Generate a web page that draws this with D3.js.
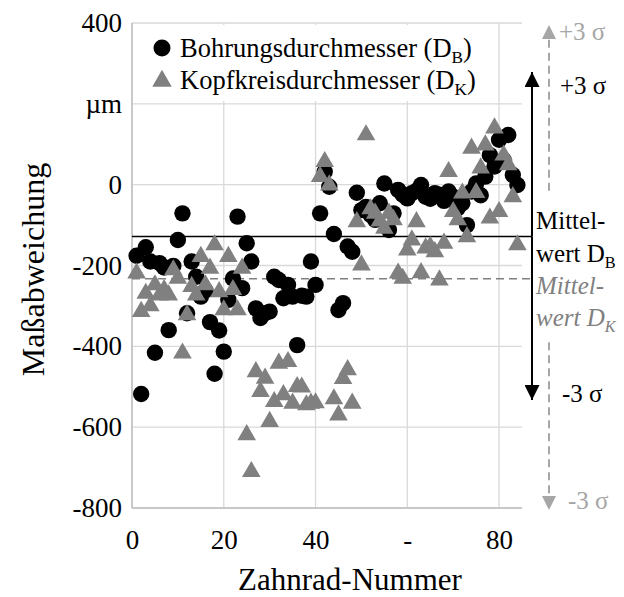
<!DOCTYPE html>
<html>
<head>
<meta charset="utf-8">
<script src="https://cdn.jsdelivr.net/npm/d3@7"></script>
<style>
  body { margin: 0; background: #fff; }
  svg { display: block; }
</style>
</head>
<body>
<div id="chart"></div>
<script>
// Bohrungsdurchmesser D_B (circles)
const boreNr = [1, 2, 3, 4, 5, 6, 7, 8, 9, 10, 11, 12, 13, 14, 15, 16, 17, 18, 19, 20,
  21, 22, 23, 24, 25, 26, 27, 28, 29, 30, 31, 32, 33, 34, 35, 36, 37, 38, 39, 40,
  41, 42, 43, 44, 45, 46, 47, 48, 49, 50, 51, 52, 53, 54, 55, 56, 57, 58, 59, 60,
  61, 62, 63, 64, 65, 66, 67, 68, 69, 70, 71, 72, 73, 74, 75, 76, 77, 78, 79, 80,
  81, 82, 83, 84];
const boreDev = [-176, -518, -155, -190, -416, -194, -205, -360, -201, -137, -71, -318, -190, -228, -277, -262, -340, -468, -361, -413,
  -285, -232, -79, -256, -145, -190, -306, -330, -318, -314, -228, -236, -281, -248, -277, -397, -275, -277, -190, -248,
  -71, 32, -5, -122, -310, -293, -153, -166, -20, -63, -55, -75, -87, -46, 3, -112, -71, -13, -25, -34,
  -21, -15, -1, -30, -35, -21, -25, -40, -17, -30, -58, -46, -100, -17, 3, -26, 20, 73, 45, 111,
  61, 123, 24, -1];

// Kopfkreisdurchmesser D_K (triangles)
const tipNr = [1, 2, 3, 4, 5, 6, 7, 8, 9, 10, 11, 12, 13, 14, 15, 16, 17, 18, 19, 20,
  21, 22, 23, 24, 25, 26, 27, 28, 29, 30, 31, 32, 33, 34, 35, 36, 37, 38, 39, 40,
  41, 42, 43, 44, 45, 46, 47, 48, 49, 50, 51, 52, 53, 54, 55, 56, 57, 58, 59, 60,
  61, 62, 63, 64, 65, 66, 67, 68, 69, 70, 71, 72, 73, 74, 75, 76, 77, 78, 79, 80,
  81, 82, 83, 84];
const tipDev = [-219, -314, -269, -300, -248, -273, -260, -273, -211, -232, -417, -322, -252, -273, -178, -248, -207, -149, -265, -310,
  -178, -260, -310, -207, -619, -710, -463, -512, -479, -586, -537, -442, -520, -438, -541, -500, -501, -545, -541, -540,
  20, 57, -1, -530, -570, -480, -458, -541, -92, -199, 123, -60, -71, -90, -108, -71, -87, -219, -232, -162,
  -137, -92, -218, -157, -153, -166, -236, -145, 32, -67, -87, -21, -129, 90, -20, 41, 98, -83, 140, -67,
  73, 49, -30, -149];

const xTicks = [0, 20, 40, 60, 80];
const xTickLabels = ["0", "20", "40", "-", "80"];
const yTicks = [400, 200, 0, -200, -400, -600, -800];
const yTickLabels = ["400", "\u00b5m", "0", "-200", "-400", "-600", "-800"];

// mean and 3 sigma limits
const meanB = -128, upperB = 279, lowerB = -533;
const meanK = -233, upperK = 395, lowerK = -805;
const gapK = [-15, -390]; // dashed arrow is interrupted for the labels

const width = 624, height = 597;
const pLeft = 132, pRight = 522, pTop = 23, pBottom = 508;

const svg = d3.select("#chart").append("svg")
  .attr("width", width)
  .attr("height", height);

const x = d3.scaleLinear().domain([0, 85]).range([pLeft, pRight]);
const y = d3.scaleLinear().domain([-800, 400]).range([pBottom, pTop]);

// grid
const grid = svg.append("g");
grid.selectAll(".hg").data(yTicks).join("line")
  .attr("x1", pLeft).attr("x2", pRight)
  .attr("y1", d => y(d)).attr("y2", d => y(d))
  .attr("stroke", "#d9d9d9").attr("stroke-width", 1.3);
grid.selectAll(".vg").data(xTicks).join("line")
  .attr("x1", d => x(d)).attr("x2", d => x(d))
  .attr("y1", pTop).attr("y2", pBottom)
  .attr("stroke", "#d9d9d9").attr("stroke-width", 1.3);

// axis lines
svg.append("line").attr("x1", pLeft).attr("x2", pLeft).attr("y1", pTop).attr("y2", pBottom)
  .attr("stroke", "#bfbfbf").attr("stroke-width", 1.5);
svg.append("line").attr("x1", pLeft).attr("x2", pRight).attr("y1", pBottom).attr("y2", pBottom)
  .attr("stroke", "#bfbfbf").attr("stroke-width", 1.5);

// tick labels
const yAxis = svg.append("g")
  .attr("transform", `translate(${pLeft},0)`)
  .call(d3.axisLeft(y).tickValues(yTicks).tickSize(0).tickPadding(10)
    .tickFormat((d, i) => yTickLabels[i]));
const xAxis = svg.append("g")
  .attr("transform", `translate(0,${pBottom})`)
  .call(d3.axisBottom(x).tickValues(xTicks).tickSize(0).tickPadding(22)
    .tickFormat((d, i) => xTickLabels[i]));
[yAxis, xAxis].forEach(a => {
  a.attr("font-size", 27);
  a.select(".domain").remove();
  a.selectAll("text").attr("fill", "#000");
});

// axis titles
svg.append("text")
  .attr("transform", `translate(44,${(pTop + pBottom) / 2 + 4}) rotate(-90)`)
  .attr("text-anchor", "middle")
  .attr("font-size", 32)
  .text("Maßabweichung");
svg.append("text")
  .attr("x", 350).attr("y", 590)
  .attr("text-anchor", "middle")
  .attr("font-size", 31)
  .text("Zahnrad-Nummer");

// legend box (covers grid)
const legend = svg.append("g");
legend.append("rect").attr("x", pLeft + 2).attr("y", pTop + 2).attr("width", 352).attr("height", 76).attr("fill", "#fff");

// mean lines, extend to the arrow
const arrowX = 532, arrowKX = 549;
svg.append("line")
  .attr("x1", pLeft).attr("x2", arrowX)
  .attr("y1", y(meanB)).attr("y2", y(meanB))
  .attr("stroke", "#000").attr("stroke-width", 1.5);
svg.append("line")
  .attr("x1", pLeft).attr("x2", arrowX)
  .attr("y1", y(meanK)).attr("y2", y(meanK))
  .attr("stroke", "#808080").attr("stroke-width", 1.5)
  .attr("stroke-dasharray", "8,5");

// points
const tri = d3.symbol().type(d3.symbolTriangle).size(150);
svg.append("g").selectAll("circle")
  .data(d3.zip(boreNr, boreDev))
  .join("circle")
  .attr("cx", d => x(d[0]))
  .attr("cy", d => y(d[1]))
  .attr("r", 8.2)
  .attr("fill", "#000");
svg.append("g").selectAll("path")
  .data(d3.zip(tipNr, tipDev))
  .join("path")
  .attr("d", tri)
  .attr("transform", d => `translate(${x(d[0])},${y(d[1])})`)
  .attr("fill", "#808080");

// legend entries
legend.append("circle").attr("cx", 162).attr("cy", 48).attr("r", 8.5).attr("fill", "#000");
legend.append("path").attr("d", d3.symbol().type(d3.symbolTriangle).size(165))
  .attr("transform", "translate(162,81)").attr("fill", "#808080");

function subText(g, xPos, yPos, main, sub, opts = {}) {
  const size = opts.size || 26.5;
  const t = g.append("text")
    .attr("x", xPos).attr("y", yPos)
    .attr("font-size", size)
    .attr("fill", opts.fill || "#000")
    .attr("font-style", opts.italic ? "italic" : null);
  t.append("tspan").text(main);
  t.append("tspan").attr("font-size", size * 0.65).attr("dy", 6).text(sub);
  if (opts.tail) t.append("tspan").attr("dy", -6).text(opts.tail);
  return t;
}
subText(legend, 180, 57, "Bohrungsdurchmesser (D", "B", { tail: ")" });
subText(legend, 180, 89, "Kopfkreisdurchmesser (D", "K", { tail: ")" });

// 3 sigma arrows
const defs = svg.append("defs");
function marker(id, color, w, h) {
  defs.append("marker")
    .attr("id", id)
    .attr("viewBox", "0 0 10 10")
    .attr("refX", 10).attr("refY", 5)
    .attr("markerUnits", "userSpaceOnUse")
    .attr("markerWidth", h).attr("markerHeight", w)
    .attr("orient", "auto")
    .append("path").attr("d", "M0,0L10,5L0,10Z").attr("fill", color);
}
marker("ab", "#000", 15, 16);
marker("ak", "#a6a6a6", 14, 15);

svg.append("line")
  .attr("x1", arrowX).attr("x2", arrowX)
  .attr("y1", y(meanB)).attr("y2", y(upperB))
  .attr("stroke", "#000").attr("stroke-width", 2)
  .attr("marker-end", "url(#ab)");
svg.append("line")
  .attr("x1", arrowX).attr("x2", arrowX)
  .attr("y1", y(meanB)).attr("y2", y(lowerB))
  .attr("stroke", "#000").attr("stroke-width", 2)
  .attr("marker-end", "url(#ab)");

svg.append("line")
  .attr("x1", arrowKX).attr("x2", arrowKX)
  .attr("y1", y(gapK[0])).attr("y2", y(upperK))
  .attr("stroke", "#a6a6a6").attr("stroke-width", 2)
  .attr("stroke-dasharray", "8,5")
  .attr("marker-end", "url(#ak)");
svg.append("line")
  .attr("x1", arrowKX).attr("x2", arrowKX)
  .attr("y1", y(gapK[1])).attr("y2", y(lowerK))
  .attr("stroke", "#a6a6a6").attr("stroke-width", 2)
  .attr("stroke-dasharray", "8,5")
  .attr("marker-end", "url(#ak)");

// annotation labels
const ann = svg.append("g").attr("font-size", 25);
ann.append("text").attr("x", 559).attr("y", 40).attr("fill", "#a6a6a6").text("+3 σ");
ann.append("text").attr("x", 560).attr("y", 94).attr("fill", "#000").text("+3 σ");
ann.append("text").attr("x", 562).attr("y", 402).attr("fill", "#000").text("-3 σ");
ann.append("text").attr("x", 568).attr("y", 509).attr("fill", "#a6a6a6").text("-3 σ");

ann.append("text").attr("x", 536).attr("y", 229).attr("fill", "#000").text("Mittel-");
subText(ann, 536, 262, "wert D", "B", { size: 25 });
ann.append("text").attr("x", 536).attr("y", 294).attr("fill", "#808080")
  .attr("font-style", "italic").text("Mittel-");
subText(ann, 536, 326, "wert D", "K", { size: 25, fill: "#808080", italic: true });

// one serif face for every label (inline style wins over d3's axis default)
svg.selectAll("text").style("font-family", "'Times New Roman', serif");
</script>
</body>
</html>
